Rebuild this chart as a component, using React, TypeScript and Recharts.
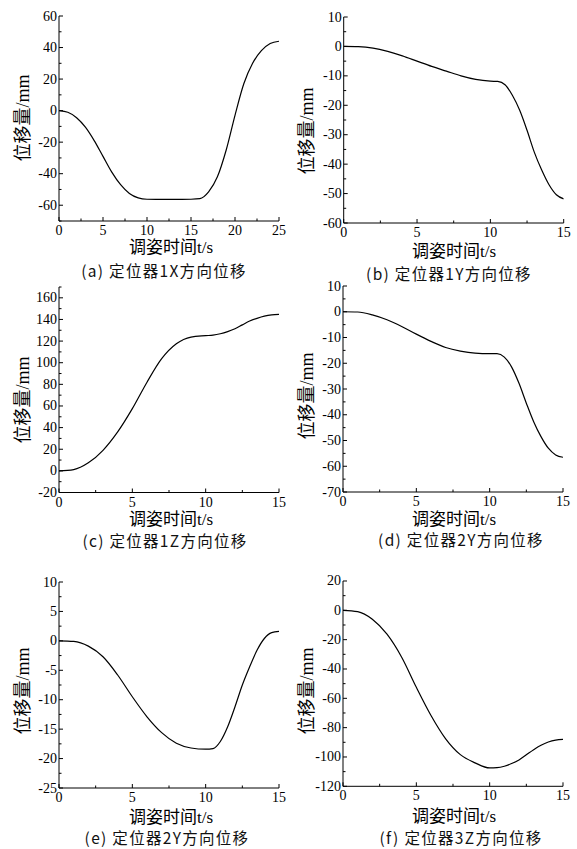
import React from "react";
import { LineChart, Line, XAxis, YAxis } from "recharts";

// time axes
const tA = [0, 1, 2, 3, 4, 5, 6, 7, 8, 9, 10, 11, 12, 13, 14, 15, 16, 17, 18, 19, 20, 21, 22, 23, 24, 25];
const t15 = [0, 1, 2, 3, 4, 5, 6, 7, 8, 9, 10, 10.5, 11, 11.5, 12, 12.5, 13, 13.5, 14, 14.5, 15];

// displacement values (mm)
const yA = [0, -1, -4.5, -10.5, -19, -29, -39, -47, -52.5, -55.3, -56.2, -56.3, -56.3, -56.3, -56.3, -56.2, -55.8, -51.5, -42, -25, -3, 17, 30, 38, 42.5, 44];
const yB = [0, -0.1, -0.6, -1.7, -3.2, -5, -6.8, -8.4, -10, -11.2, -11.8, -11.9, -13, -16.6, -21.7, -28.5, -36, -42, -47, -50.4, -51.8];
const yC = [0, 1.2, 7.4, 19, 36, 57.5, 82, 103.7, 117.5, 123.7, 125, 125.5, 126.8, 128.8, 131.4, 135, 138.5, 141, 143, 144.2, 144.6];
const yD = [0, -0.1, -1.2, -3.1, -5.7, -8.7, -11.5, -13.9, -15.3, -16.1, -16.3, -16.3, -17.6, -21.5, -27.8, -35.5, -42.7, -48.5, -53, -55.6, -56.5];
const yE = [0, -0.1, -0.9, -2.7, -5.8, -9.5, -12.9, -15.6, -17.4, -18.2, -18.4, -18.3, -17.1, -14.6, -11.2, -7.5, -4.4, -1.6, 0.4, 1.4, 1.6];
const yF = [0, -0.9, -6.1, -16.3, -32, -52.5, -71.7, -87.6, -98.4, -104, -107.5, -107.3, -106.3, -104.5, -102, -98.5, -95, -92, -89.8, -88.5, -88];

// tick labels
const ticksA = [-60, -40, -20, 0, 20, 40, 60];
const ticksB = [-60, -50, -40, -30, -20, -10, 0, 10];
const ticksC = [-20, 0, 20, 40, 60, 80, 100, 120, 140, 160];
const ticksD = [-70, -60, -50, -40, -30, -20, -10, 0, 10];
const ticksE = [-25, -20, -15, -10, -5, 0, 5, 10];
const ticksF = [-120, -100, -80, -60, -40, -20, 0, 20];
const xTicks25 = [0, 5, 10, 15, 20, 25];
const xTicks15 = [0, 5, 10, 15];

const captions = [
  "(a) 定位器1X方向位移",
  "(b) 定位器1Y方向位移",
  "(c) 定位器1Z方向位移",
  "(d) 定位器2Y方向位移",
  "(e) 定位器2Y方向位移",
  "(f) 定位器3Z方向位移",
];

const serif = "Liberation Serif, Times New Roman, Noto Sans CJK SC, serif";
const cjk = "Noto Sans CJK SC, sans-serif";

function rows(t: number[], y: number[]) {
  return t.map((v, i) => ({ t: v, y: y[i] }));
}

function minorOf(major: number[], lo: number, hi: number) {
  const step = (major[1] - major[0]) / 2;
  const out: number[] = [];
  for (let v = lo; v <= hi + 1e-9; v += step) out.push(Math.round(v * 100) / 100);
  return out;
}

function Panel(p: any) {
  const w = 290;
  const plotW = p.plotRight - p.plotLeft;
  const plotH = p.plotBottom - p.plotTop;
  const yw = p.plotLeft - p.colLeft;
  const h = plotH + 10 + 24;
  const yAll = minorOf(p.yTicks, p.yDomain[0], p.yDomain[1]);
  const xAll = minorOf(p.xTicks, 0, p.xMax);

  const yTick = (props: any) => {
    const { x, y, payload } = props;
    const v = payload.value;
    const isMajor = p.yTicks.includes(v);
    const showLabel = isMajor && (v !== p.yDomain[0] || p.labelBottom);
    return (
      <g>
        <line x1={x} x2={x + (isMajor ? 4 : 2.5)} y1={y} y2={y} stroke="#000" strokeWidth={1} />
        {showLabel && (
          <text x={x - 2} y={y} dy={4.5} textAnchor="end" fontSize={14} fontFamily={serif} fill="#000">
            {v}
          </text>
        )}
      </g>
    );
  };

  const xTick = (props: any) => {
    const { x, y, payload } = props;
    const v = payload.value;
    const isMajor = p.xTicks.includes(v);
    return (
      <g>
        <line x1={x} x2={x} y1={y} y2={y - (isMajor ? 4 : 2.5)} stroke="#000" strokeWidth={1} />
        {isMajor && (
          <text x={x} y={y} dy={14} textAnchor="middle" fontSize={14} fontFamily={serif} fill="#000">
            {v}
          </text>
        )}
      </g>
    );
  };

  return (
    <>
      <div style={{ position: "absolute", left: p.colLeft, top: p.plotTop - 10 }}>
        <LineChart
          width={w}
          height={h}
          data={p.data}
          margin={{ top: 10, left: 0, right: w - yw - plotW, bottom: 0 }}
        >
          <XAxis
            dataKey="t"
            type="number"
            domain={[0, p.xMax]}
            ticks={xAll}
            interval={0}
            height={24}
            tickSize={0}
            tickMargin={0}
            tick={xTick}
            stroke="#000"
            allowDataOverflow
          />
          <YAxis
            type="number"
            domain={p.yDomain}
            ticks={yAll}
            interval={0}
            width={yw}
            tickSize={0}
            tickMargin={0}
            tick={yTick}
            stroke="#000"
            allowDataOverflow
          />
          <Line
            type="monotone"
            dataKey="y"
            stroke="#000"
            strokeWidth={1.2}
            dot={false}
            isAnimationActive={false}
          />
        </LineChart>
      </div>
      <svg
        width={40}
        height={130}
        style={{ position: "absolute", left: p.ylx - 20, top: p.yly - 65 }}
      >
        <text
          x={0}
          y={0}
          transform="translate(27,65) rotate(-90)"
          textAnchor="middle"
          fontFamily={serif}
          fontSize={18}
          fill="#000"
        >
          位移量/mm
        </text>
      </svg>
      <div
        style={{
          position: "absolute",
          left: p.xlx - 80,
          top: p.xly - 8,
          width: 160,
          height: 16,
          lineHeight: "16px",
          textAlign: "center",
          fontFamily: serif,
          fontSize: 17,
          color: "#000",
          whiteSpace: "nowrap",
        }}
      >
        调姿时间t/s
      </div>
      <div
        style={{
          position: "absolute",
          left: p.cx - 120,
          top: p.cy - 7,
          width: 240,
          height: 14,
          lineHeight: "14px",
          textAlign: "center",
          fontFamily: cjk,
          fontSize: 15.5,
          letterSpacing: 1.3,
          color: "#111",
          whiteSpace: "nowrap",
        }}
      >
        {p.caption}
      </div>
    </>
  );
}

export default function App() {
  return (
    <div style={{ position: "absolute", left: 0, top: 0, width: 577, height: 849, background: "#fff", overflow: "hidden" }}>
      <Panel
        colLeft={0} plotLeft={59} plotRight={279} plotTop={15.7} plotBottom={220.7}
        data={rows(tA, yA)} yDomain={[-70, 60]} yTicks={ticksA} xTicks={xTicks25} xMax={25}
        ylx={22} yly={118} xlx={171} xly={248} cx={164} cy={270} caption={captions[0]}
      />
      <Panel
        colLeft={287} plotLeft={343.7} plotRight={563.7} plotTop={16.7} plotBottom={222.7}
        data={rows(t15, yB)} yDomain={[-60, 10]} yTicks={ticksB} xTicks={xTicks15} xMax={15} labelBottom
        ylx={306} yly={131} xlx={454} xly={252} cx={449} cy={273} caption={captions[1]}
      />
      <Panel
        colLeft={0} plotLeft={59} plotRight={279} plotTop={286.5} plotBottom={492}
        data={rows(t15, yC)} yDomain={[-20, 170]} yTicks={ticksC} xTicks={xTicks15} xMax={15} labelBottom
        ylx={22} yly={400} xlx={171} xly={520} cx={165} cy={540} caption={captions[2]}
      />
      <Panel
        colLeft={287} plotLeft={343} plotRight={563} plotTop={286} plotBottom={492}
        data={rows(t15, yD)} yDomain={[-70, 10]} yTicks={ticksD} xTicks={xTicks15} xMax={15} labelBottom
        ylx={306} yly={396} xlx={454} xly={520} cx={461} cy={539} caption={captions[3]}
      />
      <Panel
        colLeft={0} plotLeft={59} plotRight={279} plotTop={582.3} plotBottom={788.3}
        data={rows(t15, yE)} yDomain={[-25, 10]} yTicks={ticksE} xTicks={xTicks15} xMax={15} labelBottom
        ylx={22} yly={691} xlx={171} xly={818} cx={167} cy={837} caption={captions[4]}
      />
      <Panel
        colLeft={287} plotLeft={343} plotRight={563} plotTop={580.7} plotBottom={786}
        data={rows(t15, yF)} yDomain={[-120, 20]} yTicks={ticksF} xTicks={xTicks15} xMax={15} labelBottom
        ylx={306} yly={691} xlx={454} xly={817} cx={461} cy={837} caption={captions[5]}
      />
    </div>
  );
}
